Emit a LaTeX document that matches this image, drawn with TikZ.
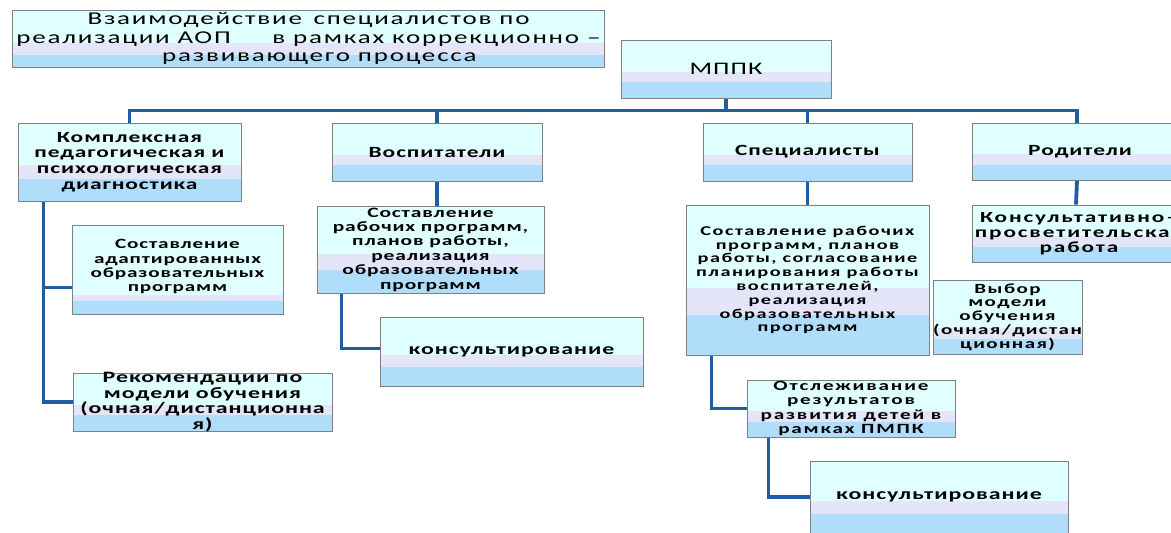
\documentclass[tikz,border=0pt]{standalone}
\usepackage{fontspec}
\usepackage{tikz}
\usetikzlibrary{calc,backgrounds}
\newfontfamily\boxfont[FakeStretch=1.5]{Carlito}

\definecolor{lineblue}{RGB}{31,92,160}
\definecolor{topfill}{RGB}{224,255,255}
\definecolor{midfill}{RGB}{229,229,250}
\definecolor{lowfill}{RGB}{176,222,250}
\definecolor{edgegray}{RGB}{128,128,128}

\tikzset{
  band/.style 2 args={draw=edgegray, line width=0.9pt, align=center, inner sep=0pt,
    path picture={
      \fill[topfill] (path picture bounding box.north west) rectangle (path picture bounding box.south east);
      \fill[midfill] ($(path picture bounding box.north west)!#1!(path picture bounding box.south west)$) rectangle (path picture bounding box.south east);
      \fill[lowfill] ($(path picture bounding box.north west)!#2!(path picture bounding box.south west)$) rectangle (path picture bounding box.south east);
    }},
  box/.style={band={0.55}{0.73}},
  size/.style 2 args={minimum width=#1pt, minimum height=#2pt},
  txt/.style n args={3}{font=\boxfont\addfontfeature{LetterSpace=#3}\bfseries\fontsize{#1}{#2}\selectfont},
  plain/.style n args={3}{font=\boxfont\addfontfeature{LetterSpace=#3}\fontsize{#1}{#2}\selectfont},
  link/.style={draw=lineblue, line width=3.8pt}
}

\begin{document}
\begin{tikzpicture}[x=1pt,y=-1pt]
\clip (0,0) rectangle (1171,533);

% header and root
\node[band={0.58}{0.79}, size={592}{57}, inner ysep=-3pt, plain={18}{18.5}{10}] (title) at (308.5,38.5)
  {Взаимодействие\hspace*{0.2em} специалистов по\\реализации АОП\hspace*{2.3em}в рамках коррекционно –\\\hspace*{1.2em}развивающего процесса};
\node[box, size={210}{58}, plain={17.6}{18}{6}] (mppk) at (726,69) {МППК};

% first row
\node[band={0.54}{0.72}, size={223}{78}, txt={15.6}{15.7}{6}] (diag) at (129.5,162)
  {Комплексная\\педагогическая и\\психологическая\\диагностика};
\node[box, size={210}{58}, txt={15.6}{15}{6}] (vosp) at (437,152) {Воспитатели};
\node[box, size={209}{58}, txt={15.6}{15}{6}] (spec) at (807.5,152) {Специалисты};
\node[box, size={216}{57}, txt={15.6}{15}{6}] (par) at (1080,151.5) {Родители};

% left column
\node[band={0.79}{0.85}, size={211}{89}, txt={14.1}{14.1}{6}] (adapt) at (177.5,269.5)
  {Составление\\адаптированных\\образовательных\\программ\\[-6pt]};
\node[box, size={259}{58}, inner ysep=-8pt, txt={15.9}{15.6}{6}] (recom) at (202.5,402)
  {Рекомендации по\\модели обучения\\(очная/дистанционна\\я)};

% middle column
\node[box, size={227}{87}, inner ysep=-9pt, txt={14.3}{14.4}{6}] (vprog) at (430.5,249.5)
  {Составление\\рабочих программ,\\планов работы,\\реализация\\образовательных\\программ};
\node[box, size={263}{69}, txt={15.9}{15}{6}] (vkons) at (511.5,351.5) {консультирование};

% right part
\node[box, size={243}{150}, txt={13.5}{13.8}{11}] (sprog) at (807.5,280)
  {Составление рабочих\\программ, планов\\работы, согласование\\планирования работы\\воспитателей,\\реализация\\образовательных\\программ};
\node[band={0.65}{0.80}, size={149}{74}, inner ysep=-3pt, txt={14}{13.8}{10}] (choice) at (1007.5,317)
  {Выбор\\модели\\обучения\\(очная/дистан\\ционная)};
\node[box, size={208}{57}, inner ysep=-8pt, txt={14.1}{14.4}{13}] (track) at (851,408.5)
  {Отслеживание\\результатов\\развития детей в\\рамках ПМПК};
\node[box, size={258}{72}, txt={15.9}{15}{6}] (skons) at (939,497) {консультирование};
\node[box, size={214}{57}, txt={15.5}{15}{12}] (advice) at (1079,233.5)
  {Консультативно\hspace*{2pt}–\\просветительская\\работа};

% connectors
\begin{scope}[on background layer]
\coordinate (hub) at ($(mppk.south)+(0,12)$);
\draw[link] (mppk.south) -- (hub);
\draw[link] (hub) -| (diag.north);
\draw[link] (hub) -| (vosp.north);
\draw[link] (hub) -| (spec.north);
\draw[link] (hub) -| ([xshift=-3pt]par.north);
\draw[link] ([xshift=26pt]diag.south west) |- ([yshift=-18pt]adapt.west);
\draw[link] ([xshift=26pt]diag.south west) |- (recom.west);
\draw[link] (vosp.south) -- (vosp.south |- vprog.north);
\draw[link] ([xshift=25pt]vprog.south west) |- ([yshift=3pt]vkons.west);
\draw[link] (spec.south) -- (sprog.north);
\draw[link] ([xshift=26pt]sprog.south west) |- (track.west);
\draw[link] ([xshift=22pt]track.south west) |- (skons.west);
\draw[link] ([xshift=-3pt]par.south) -- ([xshift=-3pt]advice.north);
\end{scope}
\end{tikzpicture}
\end{document}
